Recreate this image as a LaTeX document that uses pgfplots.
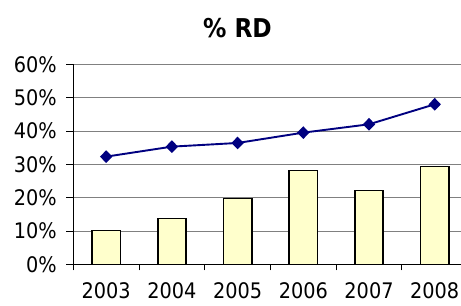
\documentclass[border=0pt]{standalone}
\usepackage{pgfplots}
\pgfplotsset{compat=1.18}
\usepackage{fontspec}
\setmainfont{DejaVu Sans Condensed}
\definecolor{barfill}{HTML}{FFFFCC}
\definecolor{linecol}{HTML}{000080}
\begin{document}
\begin{tikzpicture}[x=1bp,y=1bp]
\useasboundingbox (0,0) rectangle (461,305);
\node[font=\bfseries\fontsize{26}{26}\selectfont] at (237.5,277) {\% RD};
\begin{axis}[
  at={(73.3bp,40.7bp)}, anchor=south west,
  scale only axis, width=387.7bp, height=200bp,
  xmin=-0.5, xmax=5.4, ymin=0, ymax=60,
  axis x line=bottom, axis y line=left,
  axis line style={-, black, line width=0.9bp},
  ytick={0,10,...,60},
  yticklabel={\pgfmathprintnumber[assume math mode=true]{\tick}\%},
  ymajorgrids, grid style={gray, line width=0.7bp},
  xtick={0,...,5}, xticklabels={2003,2004,2005,2006,2007,2008},
  minor xtick={-0.5,0.5,1.5,2.5,3.5,4.5},
  xtick style={draw=none},
  minor x tick style={draw=black, line width=0.9bp},
  minor tick length=6bp,
  major tick length=7bp,
  ytick style={black, line width=0.9bp},
  tick align=outside,
  yticklabel style={font=\fontsize{21.5}{21.5}\selectfont, xshift=-6bp},
  xticklabel style={font=\fontsize{21.5}{21.5}\selectfont, yshift=-8bp},
  clip=false,
]
\addplot[ybar, bar width=28.3bp, fill=barfill, draw=black, line width=1.6bp]
  coordinates {(0,10.1) (1,13.7) (2,19.7) (3,28.2) (4,22.1) (5,29.3)};
\addplot[linecol, line width=1.9bp, mark=diamond*, mark size=5bp, mark options={solid, fill=linecol, xscale=1.3}]
  coordinates {(0,32.3) (1,35.3) (2,36.4) (3,39.5) (4,42.0) (5,48.0)};
\end{axis}
\end{tikzpicture}
\end{document}
